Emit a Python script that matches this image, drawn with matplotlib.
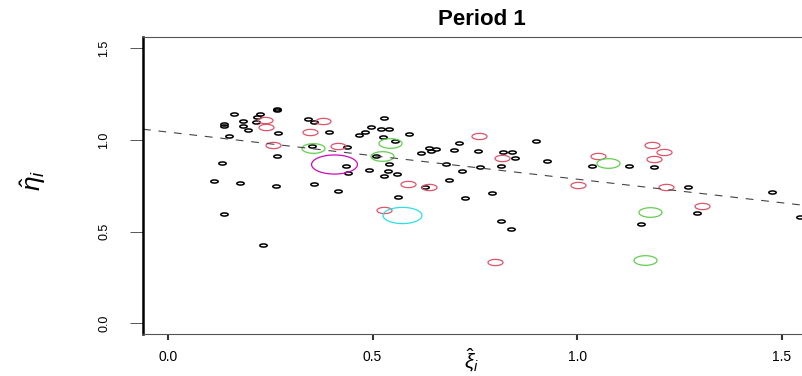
import numpy as np
import matplotlib
matplotlib.use("Agg")
import matplotlib.pyplot as plt
from matplotlib.path import Path
from matplotlib.markers import MarkerStyle

plt.rcParams['font.family'] = ['Liberation Sans', 'DejaVu Sans']
plt.rcParams['mathtext.fontset'] = 'custom'
plt.rcParams['mathtext.rm'] = 'Liberation Sans'
plt.rcParams['mathtext.it'] = 'Liberation Sans:italic'

# ---------------- data ----------------
title = "Period 1"
xticks = [0.0, 0.5, 1.0, 1.5]
yticks = [0.0, 0.5, 1.0, 1.5]
xtick_labels = ["0.0", "0.5", "1.0", "1.5"]
ytick_labels = ["0.0", "0.5", "1.0", "1.5"]

black_x = [0.112, 0.133, 0.137, 0.137, 0.138, 0.148, 0.162, 0.176, 0.184, 0.183,
           0.195, 0.225, 0.218, 0.215, 0.233, 0.264, 0.267, 0.268, 0.266, 0.267,
           0.343, 0.357, 0.353, 0.357, 0.394, 0.415, 0.434, 0.440, 0.438, 0.467,
           0.481, 0.496, 0.492, 0.508, 0.520, 0.539, 0.528, 0.525, 0.555, 0.541,
           0.537, 0.528, 0.560, 0.561, 0.589, 0.619, 0.627, 0.637, 0.644, 0.656,
           0.679, 0.688, 0.698, 0.712, 0.719, 0.726, 0.757, 0.763, 0.793, 0.813,
           0.814, 0.819, 0.838, 0.841, 0.847, 0.899, 0.927, 1.037, 1.127, 1.155,
           1.189, 1.272, 1.294, 1.476, 1.544]
black_y = [0.778, 0.876, 0.598, 1.078, 1.085, 1.023, 1.142, 0.767, 1.101, 1.076,
           1.056, 1.142, 1.123, 1.100, 0.427, 0.751, 0.913, 1.037, 1.166, 1.169,
           1.113, 1.098, 0.965, 0.760, 1.043, 0.723, 0.857, 0.819, 0.961, 1.027,
           1.045, 1.070, 0.835, 0.913, 1.060, 1.060, 1.120, 1.015, 0.995, 0.871,
           0.832, 0.804, 0.816, 0.687, 1.033, 0.931, 0.744, 0.954, 0.941, 0.951,
           0.869, 0.782, 0.948, 0.985, 0.829, 0.684, 0.940, 0.853, 0.711, 0.560,
           0.857, 0.935, 0.516, 0.936, 0.903, 0.997, 0.884, 0.857, 0.858, 0.541,
           0.854, 0.743, 0.603, 0.715, 0.580]

red_x = [0.237, 0.240, 0.256, 0.347, 0.379, 0.415, 0.528, 0.587, 0.638, 0.761,
         0.816, 0.800, 1.002, 1.050, 1.183, 1.213, 1.188, 1.217, 1.305]
red_y = [1.111, 1.069, 0.974, 1.045, 1.105, 0.967, 0.617, 0.758, 0.742, 1.023,
         0.900, 0.334, 0.756, 0.911, 0.974, 0.933, 0.896, 0.744, 0.641]

green_x = [0.354, 0.543, 0.522, 1.075, 1.178, 1.166]
green_y = [0.956, 0.981, 0.911, 0.876, 0.606, 0.343]

magenta_x = [0.405]
magenta_y = [0.870]

cyan_x = [0.573]
cyan_y = [0.591]

fit_intercept = 1.043
fit_slope = -0.257

# ---------------- figure ----------------
W, H = 803, 376
fig = plt.figure(figsize=(W / 100, H / 100), dpi=100)
left_px, right_px, top_px, bottom_px = 143, 821, 37.3, 334.3
ax = fig.add_axes([left_px / W, 1 - bottom_px / H,
                   (right_px - left_px) / W, (bottom_px - top_px) / H])
ax.set_xlim(-0.061, 1.596)
ax.set_ylim(-0.06, 1.56)

# ellipse marker (picture is horizontally stretched)
t = np.linspace(0, 2 * np.pi, 73)
ell = MarkerStyle(Path(np.column_stack([np.cos(t), np.sin(t) / 2.4]), closed=True))

groups = [
    (black_x, black_y, '#000000', 5.3, 1.1),
    (red_x, red_y, '#DF536B', 10.8, 0.9),
    (green_x, green_y, '#61D04F', 16.6, 0.9),
    (magenta_x, magenta_y, '#CD0BBC', 33.0, 0.9),
    (cyan_x, cyan_y, '#28E2E5', 28.0, 0.9),
]
for gx, gy, col, ms, mew in groups:
    ax.plot(gx, gy, linestyle='none', marker=ell, markersize=ms,
            markerfacecolor='none', markeredgecolor=col, markeredgewidth=mew)

ax.axline((0, fit_intercept), slope=fit_slope, color='#444444', lw=0.8,
          linestyle=(0, (7, 7)))

ax.set_xticks(xticks)
ax.set_xticklabels(xtick_labels)
ax.set_yticks(yticks)
ax.set_yticklabels(ytick_labels, rotation=90, va='center')
ax.tick_params(axis='x', length=4.5, width=1.5, pad=7, labelsize=10, colors='#333333', labelcolor='black')
ax.tick_params(axis='y', length=9.6, width=0.7, pad=14, labelsize=9, colors='#555555', labelcolor='black')

for side in ['top', 'bottom']:
    ax.spines[side].set_linewidth(0.8)
    ax.spines[side].set_color('#555555')
ax.spines['left'].set_linewidth(1.8)
ax.spines['left'].set_color('black')
ax.spines['right'].set_visible(False)

ax.set_title(title, fontsize=16, fontweight='bold', pad=9)
ax.set_xlabel(r'$\hat{\xi}_i$', fontsize=15)
ax.xaxis.set_label_coords(0.485, -0.04)
ax.set_ylabel(r'$\hat{\eta}_i$', fontsize=19)
ax.yaxis.set_label_coords(-0.14, 0.52)

fig.savefig('out.png', dpi=100)
